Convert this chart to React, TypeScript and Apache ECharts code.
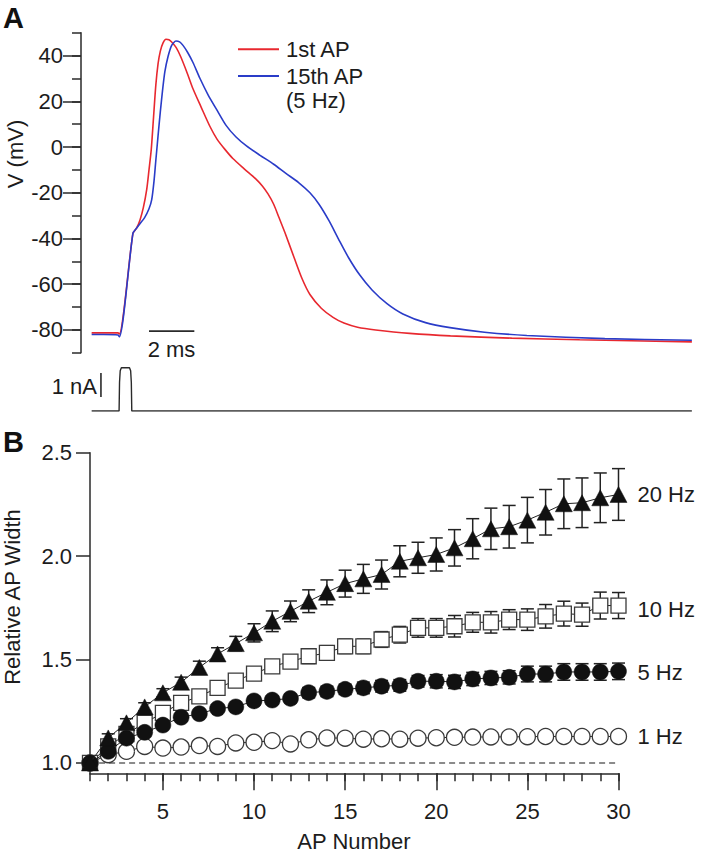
import React, { useEffect, useRef } from "react";
import * as echarts from "echarts";

const FONT = "Arial, 'Liberation Sans', Helvetica, sans-serif";
const TXT = "#1c1c1c";
const AXIS = "#2a2a2a";
const RED = "#e8282f";
const BLUE = "#2a3cc8";

// ---------- Panel A : membrane voltage traces (time in ms, voltage in mV)
const ap1Time = [0.47, 1.0, 1.63, 1.69, 2.29, 2.45, 2.6, 2.75, 2.9, 3.0, 3.1, 3.2, 3.3, 3.4, 3.5, 3.62, 3.75, 3.88, 4.0, 4.2, 4.4, 4.7, 4.94, 5.3, 5.69, 6.0, 6.35, 6.7, 7.2, 7.72, 8.0, 8.25, 8.5, 8.73, 9.0, 9.4, 9.75, 10.1, 10.6, 11.12, 11.6, 12.2, 13.0, 14.5, 16.3, 19.0, 22.0, 26.95];
const ap1Volt = [-81.3, -81.3, -81.3, -81.8, -37.8, -35.5, -32, -26.5, -18.5, -10, -1, 13, 27, 36.5, 42, 45.6, 47.2, 47, 46, 43.5, 39.5, 32, 25.5, 17.5, 9, 3.5, -1, -5, -9.5, -14, -17, -20.5, -25, -30.7, -37.5, -48.3, -57.5, -64.5, -70.5, -74.5, -77, -78.8, -80, -81.5, -82.6, -83.6, -84.3, -85.2];
const ap15Time = [0.47, 1.0, 1.63, 1.69, 2.29, 2.45, 2.6, 2.8, 3.0, 3.12, 3.22, 3.3, 3.4, 3.5, 3.6, 3.7, 3.84, 4.0, 4.19, 4.35, 4.5, 4.7, 4.94, 5.25, 5.6, 5.98, 6.4, 6.84, 7.3, 7.9, 8.5, 9.04, 9.6, 10.1, 10.5, 10.94, 11.35, 11.8, 12.3, 12.84, 13.5, 14.2, 15.2, 16.28, 17.8, 19.67, 23.11, 26.95];
const ap15Volt = [-82, -82, -82.2, -83, -37.8, -35.5, -33.5, -31, -27, -23, -15, -6, 5, 15.5, 25, 33, 39.6, 44.5, 46.4, 46, 44.5, 41.5, 37, 30, 23, 16.5, 9.5, 4.4, 0.5, -3.6, -7.5, -11.5, -15.5, -20, -25, -32.2, -40, -48.3, -56, -62.5, -68.5, -73, -76.8, -79, -81, -82.4, -83.8, -84.5];
const stimTime = [0.47, 1.68, 1.7, 1.73, 1.78, 2.14, 2.19, 2.22, 2.24, 26.95];
const stimCurrent = [0, 0, 1.2, 1.68, 1.8, 1.8, 1.68, 1.2, 0, 0];
const voltLabels = [-80, -60, -40, -20, 0, 20, 40];
const voltMinorTicks = [-90, -80, -70, -60, -50, -40, -30, -20, -10, 0, 10, 20, 30, 40, 50];
const timeBarMs = [3.0, 5.0];
const currentBarNa = [0.58, 1.58];

// ---------- Panel B : relative AP width vs AP number
const apNumber = [1, 2, 3, 4, 5, 6, 7, 8, 9, 10, 11, 12, 13, 14, 15, 16, 17, 18, 19, 20, 21, 22, 23, 24, 25, 26, 27, 28, 29, 30];
const width20Hz = [1.0, 1.121, 1.194, 1.271, 1.339, 1.39, 1.462, 1.527, 1.577, 1.629, 1.685, 1.733, 1.782, 1.825, 1.867, 1.89, 1.911, 1.975, 1.992, 2.008, 2.04, 2.084, 2.132, 2.142, 2.174, 2.212, 2.253, 2.258, 2.282, 2.298];
const err20Hz = [0, 0.02, 0.02, 0.02, 0.02, 0.025, 0.03, 0.03, 0.035, 0.044, 0.05, 0.05, 0.055, 0.06, 0.065, 0.07, 0.07, 0.075, 0.075, 0.08, 0.088, 0.097, 0.1, 0.103, 0.11, 0.11, 0.12, 0.12, 0.12, 0.125];
const width10Hz = [1.0, 1.08, 1.14, 1.194, 1.242, 1.29, 1.322, 1.363, 1.398, 1.432, 1.467, 1.49, 1.516, 1.532, 1.564, 1.564, 1.597, 1.62, 1.653, 1.653, 1.661, 1.68, 1.68, 1.693, 1.693, 1.709, 1.722, 1.717, 1.761, 1.761];
const err10Hz = [0, 0.01, 0.01, 0.01, 0.01, 0.01, 0.015, 0.02, 0.02, 0.025, 0.03, 0.03, 0.035, 0.035, 0.035, 0.035, 0.038, 0.04, 0.045, 0.045, 0.052, 0.048, 0.052, 0.048, 0.052, 0.057, 0.06, 0.056, 0.065, 0.063];
const width5Hz = [1.0, 1.056, 1.12, 1.148, 1.183, 1.221, 1.238, 1.263, 1.271, 1.3, 1.304, 1.312, 1.34, 1.346, 1.356, 1.363, 1.371, 1.375, 1.395, 1.395, 1.392, 1.406, 1.411, 1.414, 1.43, 1.43, 1.44, 1.44, 1.44, 1.443];
const err5Hz = [0, 0.01, 0.01, 0.01, 0.01, 0.01, 0.01, 0.01, 0.01, 0.02, 0.02, 0.02, 0.025, 0.025, 0.025, 0.028, 0.028, 0.028, 0.028, 0.032, 0.032, 0.032, 0.032, 0.032, 0.038, 0.038, 0.04, 0.04, 0.04, 0.04];
const width1Hz = [1.0, 1.04, 1.056, 1.08, 1.072, 1.077, 1.084, 1.08, 1.097, 1.1, 1.108, 1.092, 1.112, 1.121, 1.12, 1.115, 1.117, 1.115, 1.12, 1.122, 1.124, 1.125, 1.126, 1.126, 1.127, 1.128, 1.128, 1.128, 1.128, 1.128];
const err1Hz = [0, 0.008, 0.008, 0.008, 0.008, 0.008, 0.008, 0.008, 0.008, 0.008, 0.008, 0.008, 0.008, 0.008, 0.008, 0.008, 0.008, 0.008, 0.008, 0.008, 0.008, 0.008, 0.008, 0.008, 0.008, 0.008, 0.008, 0.008, 0.008, 0.008];
const apMajorTicks = [5, 10, 15, 20, 25, 30];
const widthTicks = [1.0, 1.5, 2.0, 2.5];
const baselineX = [1.5, 30];
const baselineY = [1.0, 1.0];

const zip = (a: number[], b: number[]) => a.map((v, i) => [v, b[i]]);

const textStyle = (size = 22) => ({ fontFamily: FONT, fontSize: size, color: TXT });

function errorSeries(vals: number[], errs: number[], z: number) {
  return {
    type: "custom",
    xAxisIndex: 2,
    yAxisIndex: 3,
    z,
    silent: true,
    data: apNumber.map((n, i) => [n, vals[i], errs[i]]),
    encode: { x: 0, y: 1 },
    renderItem: (_params: any, api: any) => {
      const x = api.value(0);
      const y = api.value(1);
      const e = api.value(2);
      if (!e) return null;
      const top = api.coord([x, y + e]);
      const bot = api.coord([x, y - e]);
      const h = 6.5;
      const st = { stroke: "#222", lineWidth: 1.5 };
      return {
        type: "group",
        children: [
          { type: "line", shape: { x1: top[0], y1: top[1], x2: bot[0], y2: bot[1] }, style: st },
          { type: "line", shape: { x1: top[0] - h, y1: top[1], x2: top[0] + h, y2: top[1] }, style: st },
          { type: "line", shape: { x1: bot[0] - h, y1: bot[1], x2: bot[0] + h, y2: bot[1] }, style: st },
        ],
      };
    },
  };
}

function markerSeries(name: string, vals: number[], symbol: string, size: any, fill: string, z: number, labelOffset: number) {
  const open = fill === "#ffffff";
  return {
    type: "line",
    name,
    xAxisIndex: 2,
    yAxisIndex: 3,
    z,
    silent: true,
    data: zip(apNumber, vals),
    symbol,
    symbolSize: size,
    showSymbol: true,
    itemStyle: { color: fill, borderColor: open ? "#3a3a3a" : "#111", borderWidth: open ? 1.3 : 0.5 },
    lineStyle: { color: "#222", width: 1 },
    endLabel: {
      show: true,
      formatter: name,
      distance: 19,
      offset: [0, labelOffset],
      ...textStyle(22),
    },
  };
}

export default function App() {
  const ref = useRef<HTMLDivElement>(null);
  useEffect(() => {
    if (!ref.current) return;
    const chart = echarts.init(ref.current, undefined, { renderer: "svg" });
    const axisLine = { show: true, lineStyle: { color: AXIS, width: 1.5 } };
    const option: any = {
      animation: false,
      backgroundColor: "#ffffff",
      textStyle: { fontFamily: FONT },
      grid: [
        { left: 81, top: 32.8, width: 612, height: 320 },
        { left: 81, top: 363, width: 612, height: 48 },
        { left: 90, top: 452.7, width: 528.5, height: 320.6 },
      ],
      xAxis: [
        { gridIndex: 0, type: "value", min: 0, max: 27, show: false },
        { gridIndex: 1, type: "value", min: 0, max: 27, show: false },
        {
          gridIndex: 2, type: "value", min: 1, max: 30, position: "bottom",
          axisLine,
          axisTick: { show: true, customValues: apNumber, length: 8, lineStyle: { color: AXIS, width: 1.5 } },
          axisLabel: { show: true, customValues: apMajorTicks, margin: 27, ...textStyle(22) },
          splitLine: { show: false },
        },
        {
          gridIndex: 2, type: "value", min: 1, max: 30, position: "bottom",
          axisLine: { show: false },
          axisTick: { show: true, customValues: apMajorTicks, length: 17, lineStyle: { color: AXIS, width: 1.5 } },
          axisLabel: { show: false },
          splitLine: { show: false },
        },
      ],
      yAxis: [
        {
          gridIndex: 0, type: "value", min: -90, max: 50, position: "left",
          axisLine,
          axisTick: { show: true, customValues: voltMinorTicks, length: 9, lineStyle: { color: AXIS, width: 1.5 } },
          axisLabel: { show: true, customValues: voltLabels, margin: 18, ...textStyle(22) },
          splitLine: { show: false },
        },
        {
          gridIndex: 0, type: "value", min: -90, max: 50, position: "left",
          axisLine: { show: false },
          axisTick: { show: true, customValues: voltLabels, length: 18, lineStyle: { color: AXIS, width: 1.5 } },
          axisLabel: { show: false },
          splitLine: { show: false },
        },
        { gridIndex: 1, type: "value", min: 0, max: 2, show: false },
        {
          gridIndex: 2, type: "value", min: 0.95, max: 2.5, position: "left",
          axisLine,
          axisTick: { show: true, customValues: widthTicks, length: 14, lineStyle: { color: AXIS, width: 1.5 } },
          axisLabel: { show: true, customValues: widthTicks, margin: 18, formatter: (v: number) => v.toFixed(1), ...textStyle(22) },
          splitLine: { show: false },
        },
      ],
      series: [
        { type: "line", xAxisIndex: 0, yAxisIndex: 0, data: zip(ap1Time, ap1Volt), symbol: "none", smooth: 0.25, silent: true, lineStyle: { color: RED, width: 1.6 }, z: 3 },
        { type: "line", xAxisIndex: 0, yAxisIndex: 0, data: zip(ap15Time, ap15Volt), symbol: "none", smooth: 0.25, silent: true, lineStyle: { color: BLUE, width: 1.6 }, z: 4 },
        { type: "line", xAxisIndex: 0, yAxisIndex: 0, data: zip(timeBarMs, [-80.5, -80.5]), symbol: "none", silent: true, lineStyle: { color: AXIS, width: 1.8 } },
        { type: "line", xAxisIndex: 1, yAxisIndex: 2, data: zip(stimTime, stimCurrent), symbol: "none", silent: true, lineStyle: { color: AXIS, width: 1.4 } },
        { type: "line", xAxisIndex: 1, yAxisIndex: 2, data: zip([0.88, 0.88], currentBarNa), symbol: "none", silent: true, lineStyle: { color: AXIS, width: 1.6 } },
        { type: "line", xAxisIndex: 2, yAxisIndex: 3, data: zip(baselineX, baselineY), symbol: "none", silent: true, z: 1, lineStyle: { color: "#666", width: 1.5, type: [6, 4] } },
        errorSeries(width1Hz, err1Hz, 1),
        errorSeries(width10Hz, err10Hz, 1),
        errorSeries(width5Hz, err5Hz, 1),
        errorSeries(width20Hz, err20Hz, 1),
        markerSeries("1 Hz", width1Hz, "circle", 16, "#ffffff", 2, 0),
        markerSeries("10 Hz", width10Hz, "rect", 15, "#ffffff", 3, 4),
        markerSeries("5 Hz", width5Hz, "circle", 16, "#111111", 4, 1),
        markerSeries("20 Hz", width20Hz, "triangle", [17, 16], "#111111", 5, 0),
      ],
      graphic: [
        { type: "text", left: 3, top: 3, style: { text: "A", fontFamily: FONT, fontSize: 29, fontWeight: "bold", fill: "#111" } },
        { type: "text", left: 3, top: 427, style: { text: "B", fontFamily: FONT, fontSize: 29, fontWeight: "bold", fill: "#111" } },
        { type: "text", x: 15, y: 154, rotation: Math.PI / 2, style: { text: "V (mV)", fontFamily: FONT, fontSize: 22, fill: TXT, align: "center", verticalAlign: "middle" } },
        { type: "text", x: 12, y: 597, rotation: Math.PI / 2, style: { text: "Relative AP Width", fontFamily: FONT, fontSize: 22, fill: TXT, align: "center", verticalAlign: "middle" } },
        { type: "text", x: 354, y: 841, style: { text: "AP Number", fontFamily: FONT, fontSize: 22, fill: TXT, align: "center", verticalAlign: "middle" } },
        { type: "text", x: 171.5, y: 349, style: { text: "2 ms", fontFamily: FONT, fontSize: 22, fill: TXT, align: "center", verticalAlign: "middle" } },
        { type: "text", x: 97, y: 386, style: { text: "1 nA", fontFamily: FONT, fontSize: 22, fill: TXT, align: "right", verticalAlign: "middle" } },
        { type: "line", shape: { x1: 238, y1: 49.3, x2: 279, y2: 49.3 }, style: { stroke: RED, lineWidth: 2 } },
        { type: "line", shape: { x1: 238, y1: 76, x2: 279, y2: 76 }, style: { stroke: BLUE, lineWidth: 2 } },
        { type: "text", x: 286, y: 49.3, style: { text: "1st AP", fontFamily: FONT, fontSize: 22, fill: TXT, align: "left", verticalAlign: "middle" } },
        { type: "text", x: 286, y: 76, style: { text: "15th AP", fontFamily: FONT, fontSize: 22, fill: TXT, align: "left", verticalAlign: "middle" } },
        { type: "text", x: 286, y: 100, style: { text: "(5 Hz)", fontFamily: FONT, fontSize: 22, fill: TXT, align: "left", verticalAlign: "middle" } },
      ],
    };
    chart.setOption(option);
    return () => chart.dispose();
  }, []);
  return <div ref={ref} style={{ position: "fixed", left: 0, top: 0, width: 703, height: 853, background: "#fff" }} />;
}
